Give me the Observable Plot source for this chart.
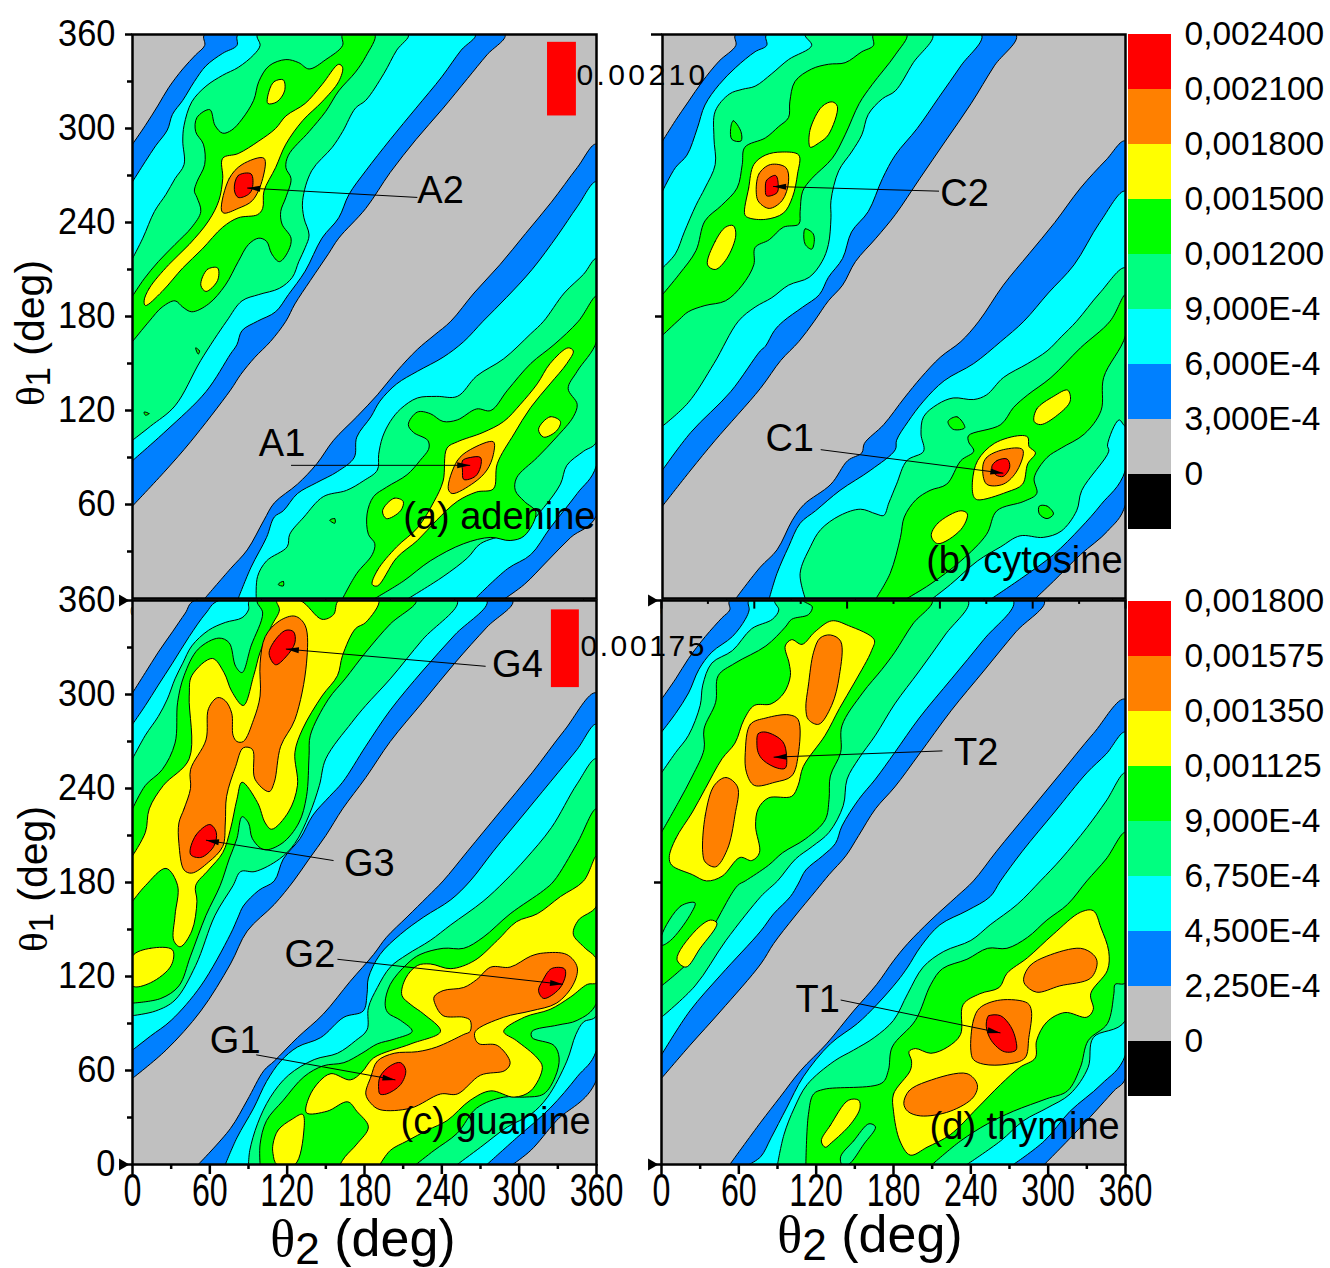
<!DOCTYPE html>
<html><head><meta charset="utf-8">
<script src="https://cdn.jsdelivr.net/npm/d3@7"></script>
<script src="https://cdn.jsdelivr.net/npm/@observablehq/plot@0.6"></script>
<style>
html,body{margin:0;padding:0;background:#fff;overflow:hidden}
#root{position:relative;width:1330px;height:1268px;font-family:"Liberation Sans",Arial,sans-serif;color:#000}
#root svg{position:absolute;left:0;top:0;background:transparent}
.t{position:absolute;white-space:nowrap;line-height:1}
.t i{font-family:"Liberation Serif",serif;font-style:normal}
.t sub{font-size:.85em;line-height:0;vertical-align:-.2em}
</style></head><body><div id="root"></div>
<script>
const BLUE="#0080ff",CYAN="#00ffff",SPRING="#00ff80",GREEN="#00ff00",YELLOW="#ffff00",ORANGE="#ff8000",RED="#ff0000",GRAY="#c0c0c0";

// ---- panel (a) adenine : [theta2, theta1] contour outlines in degrees
const aBlueU=[[0,290],[10,302],[20,315],[28,326],[39,338],[49,347],[56,353],[56,360],[289,360],[275,347],[260,332],[240,312],[220,293],[200,272],[181,249],[160,230],[152,220],[138,203],[126,188],[119,177],[107,164],[95,154],[84,143],[76,133],[45,100],[26,82],[0,59]];
const aCyanU=[[0,266],[10,279],[18,289],[27,299],[31,309],[39,318],[48,330],[57,340],[70,348],[81,353],[82,360],[266,360],[255,350],[240,333],[220,313],[200,293],[181,273],[168,258],[160,243],[147,230],[134,209],[121,194],[111,183],[97,177],[85,171],[81,162],[76,156],[57,132],[26,107],[0,88]];
const aSpringU=[[0,217],[8,230],[17,247],[26,258],[33,268],[40,277],[39,292],[40,302],[46,317],[57,327],[70,334],[82,339],[94,347],[99,353],[97,360],[214,360],[205,350],[195,335],[181,318],[173,313],[163,298],[155,288],[139,273],[132,254],[133,243],[137,232],[134,224],[129,215],[124,205],[114,198],[98,194],[85,190],[73,177],[53,152],[33,123],[14,110],[0,101]];
const aGreenU=[[0,193],[9,204],[20,215],[33,226],[46,237],[53,247],[50,256],[48,260],[50,266],[56,277],[55,290],[49,298],[50,307],[60,312],[64,302],[70,297],[77,299],[85,306],[94,318],[98,330],[106,340],[119,344],[129,342],[137,338],[150,344],[163,353],[163,360],[188,360],[181,346],[173,336],[160,324],[150,311],[137,298],[121,283],[119,275],[123,268],[119,256],[115,247],[116,239],[123,230],[121,222],[114,215],[108,220],[104,228],[98,230],[90,226],[82,215],[72,200],[59,188],[46,183],[39,186],[33,190],[23,186],[13,177],[0,164]];
const aYellowU=[[9,190],[13,198],[28,213],[44,226],[59,241],[67,254],[70,268],[70,281],[82,284],[98,292],[111,300],[119,308],[134,316],[147,328],[160,341],[163,339],[160,330],[147,317],[132,305],[119,290],[111,275],[102,260],[101,249],[97,245],[82,243],[70,237],[54,223],[39,211],[23,196],[10,187]];
const aYellowU2=[[106,324],[110,330],[117,331],[118,324],[112,317],[105,316]];
const aYellowU3=[[53,200],[58,210],[66,211],[66,203],[57,196]];
const aOrangeU=[[69,248],[75,268],[85,277],[102,281],[101,268],[93,254],[82,249],[71,246]];
const aRedU=[[79,261],[82,270],[92,271],[93,262],[90,258],[82,256]];
const aTinyU=[[49,160],[52,158],[51,156]];
const aTinyU2=[[9,119],[13,118],[10,117]];
const aBlueL=[[56,0],[76,19],[89,31],[102,50],[110,61],[128,73],[143,86],[156,101],[174,116],[190,130],[205,145],[221,159],[234,168],[247,177],[265,195],[285,213],[305,233],[325,253],[345,275],[360,290],[360,53],[340,39],[322,24],[304,9],[289,0]];
const aCyanL=[[82,0],[92,20],[104,39],[110,52],[117,56],[128,67],[143,74],[159,81],[172,90],[174,103],[185,116],[192,126],[205,137],[221,145],[241,154],[257,164],[272,177],[290,192],[310,210],[330,232],[345,250],[360,266],[360,85],[345,67],[324,45],[309,28],[291,19],[266,0]];
const aSpringL=[[96,0],[97,14],[104,24],[120,33],[122,41],[133,52],[148,65],[166,69],[179,75],[190,82],[191,92],[194,103],[200,113],[208,121],[221,128],[236,129],[252,129],[267,142],[288,153],[309,169],[319,177],[335,195],[350,207],[360,217],[360,100],[350,94],[337,85],[332,73],[319,58],[304,45],[291,41],[270,35],[260,26],[241,14],[214,0]];
const aGreenL=[[163,0],[174,16],[186,28],[188,35],[183,41],[182,54],[187,65],[197,71],[213,79],[223,88],[230,96],[229,101],[218,106],[214,111],[221,119],[231,118],[241,113],[252,114],[267,121],[278,120],[291,133],[309,150],[327,162],[346,177],[360,193],[360,164],[345,145],[338,134],[345,124],[342,116],[329,103],[314,90],[298,77],[297,69],[304,62],[313,55],[304,40],[293,37],[278,39],[257,35],[231,24],[210,11],[188,0]];
const aYellowL=[[186,9],[190,18],[205,33],[221,45],[234,62],[241,75],[244,96],[252,100],[272,106],[288,113],[301,124],[314,137],[324,150],[338,160],[342,158],[337,150],[324,137],[309,122],[296,105],[283,86],[280,70],[267,68],[252,62],[236,50],[221,37],[205,26],[190,8]];
const aYellowL2=[[194,56],[203,64],[210,62],[208,56],[197,51]];
const aYellowL3=[[315,108],[324,116],[332,113],[329,107],[319,103]];
const aOrangeL=[[245,70],[252,88],[262,95],[280,100],[280,92],[275,82],[265,74],[248,67]];
const aRedL=[[256,82],[256,88],[262,90],[270,90],[270,84],[266,78],[257,76]];
const aTinyL=[[153,50],[157,51],[157,48]];
const aTinyL2=[[113,9],[117,11],[117,8]];

// ---- panel (b) cytosine
const bBlueU=[[0,292],[10,305],[20,317],[31,330],[44,343],[57,353],[57,360],[275,360],[258,340],[240,316],[220,292],[200,268],[181,245],[166,230],[150,215],[140,200],[129,190],[118,177],[106,164],[92,152],[76,134],[41,101],[22,82],[0,59]];
const bCyanU=[[0,260],[10,275],[19,283],[27,300],[33,315],[44,328],[57,339],[72,349],[81,353],[81,360],[248,360],[232,340],[215,320],[198,300],[181,283],[171,268],[160,247],[147,234],[140,217],[129,205],[122,194],[109,186],[94,177],[87,171],[80,161],[76,158],[53,132],[22,106],[0,82]];
const bSpringU=[[0,211],[10,220],[17,234],[26,251],[33,262],[41,277],[40,294],[41,311],[52,322],[62,325],[72,327],[85,335],[98,344],[116,353],[111,360],[210,360],[195,342],[181,324],[171,319],[160,309],[155,296],[147,285],[137,273],[131,254],[131,243],[129,226],[124,215],[114,205],[98,200],[85,192],[72,186],[59,177],[40,150],[20,125],[0,110]];
const bGreenU=[[0,194],[13,207],[26,222],[33,241],[46,251],[58,262],[62,277],[64,288],[80,294],[90,301],[98,307],[99,317],[103,330],[116,338],[129,341],[142,342],[155,349],[164,353],[164,360],[190,360],[181,347],[163,328],[153,316],[142,296],[132,281],[116,268],[109,260],[107,247],[106,239],[94,237],[83,229],[72,224],[71,213],[62,200],[49,190],[33,187],[20,183],[13,178],[0,168]];
const bYellowU=[[64,245],[67,262],[71,277],[80,283],[93,285],[106,283],[105,271],[101,256],[94,246],[80,242],[67,243]];
const bYellowU2=[[114,290],[115,300],[124,314],[132,317],[136,314],[129,296],[122,291],[115,288]];
const bYellowU3=[[35,213],[41,228],[49,237],[55,238],[57,232],[50,217],[41,210]];
const bOrangeU=[[73,258],[75,271],[84,277],[96,275],[98,266],[93,254],[83,249],[75,253]];
const bRedU=[[80,262],[81,267],[88,270],[90,264],[89,259],[81,257]];
const bIslandU=[[53,300],[55,305],[61,298],[61,292],[54,293]];
const bIslandU2=[[110,234],[111,236],[117,233],[118,228],[116,223],[111,226]];
const bBlueL=[[57,0],[76,20],[89,31],[101,50],[110,60],[131,73],[144,88],[155,93],[157,99],[172,111],[188,128],[201,141],[216,154],[232,164],[246,177],[265,200],[285,220],[305,240],[325,262],[345,280],[360,292],[360,60],[346,43],[325,28],[304,11],[290,0]];
const bCyanL=[[83,0],[89,16],[98,33],[107,48],[119,56],[138,69],[162,82],[181,95],[182,101],[191,113],[203,126],[219,139],[242,150],[263,164],[281,177],[300,195],[320,213],[340,240],[360,260],[360,82],[341,60],[325,45],[304,28],[281,14],[256,0]];
const bSpringL=[[111,0],[107,16],[115,33],[123,44],[138,53],[154,57],[166,54],[172,53],[176,61],[182,73],[190,88],[203,94],[201,105],[203,116],[214,124],[226,128],[242,127],[252,130],[265,141],[284,150],[299,158],[310,167],[322,177],[340,195],[360,211],[360,110],[355,114],[346,98],[347,94],[326,69],[322,56],[310,43],[296,39],[278,40],[263,33],[245,24],[224,9],[210,0]];
const bGreenL=[[166,0],[177,16],[185,39],[188,52],[197,63],[208,69],[221,73],[232,88],[242,94],[238,100],[238,104],[263,111],[273,122],[284,130],[302,141],[325,160],[348,177],[360,194],[360,168],[343,141],[341,120],[328,105],[310,96],[299,90],[289,77],[291,67],[281,62],[260,56],[252,41],[232,24],[208,9],[190,0]];
const bYellowL=[[242,65],[241,75],[245,88],[258,99],[278,104],[284,103],[285,97],[290,93],[284,86],[280,73],[268,68],[245,63]];
const bYellowL2=[[289,113],[291,121],[304,129],[315,133],[317,126],[307,117],[294,111]];
const bYellowL3=[[209,40],[214,48],[232,56],[237,54],[232,44],[214,35]];
const bOrangeL=[[249,84],[252,90],[265,95],[280,95],[276,82],[265,73],[252,73]];
const bRedL=[[256,84],[260,88],[268,89],[270,84],[265,78],[259,79]];
const bIslandL=[[222,113],[229,116],[235,109],[226,108]];
const bIslandL2=[[293,59],[299,59],[304,54],[299,51],[293,54]];

// ---- panel (c) guanine
const cBlueU=[[0,301],[10,314],[20,327],[31,340],[41,352],[48,360],[295,360],[275,343],[250,320],[225,295],[200,270],[181,247],[163,227],[150,210],[137,195],[125,181],[110,166],[89,149],[76,128],[53,98],[26,73],[0,55]];
const cCyanU=[[0,281],[10,293],[20,306],[31,320],[44,337],[57,352],[67,360],[275,360],[250,338],[225,315],[200,290],[181,267],[163,244],[153,235],[140,223],[130,208],[117,195],[110,181],[98,175],[86,165],[82,158],[76,147],[53,114],[30,92],[14,82],[0,73]];
const cSpringU=[[0,259],[10,274],[20,286],[27,297],[33,310],[39,320],[46,331],[59,341],[72,346],[85,349],[90,354],[91,360],[252,360],[225,335],[200,310],[181,293],[170,282],[150,259],[145,242],[137,223],[126,205],[114,195],[95,187],[84,187],[78,178],[64,159],[49,127],[33,105],[18,98],[0,95]];
const cGreenU=[[0,227],[10,242],[23,252],[33,269],[35,295],[40,312],[51,329],[67,336],[75,333],[80,318],[85,314],[92,331],[101,352],[97,360],[220,360],[200,345],[181,327],[165,310],[152,297],[138,274],[137,261],[135,235],[129,218],[116,205],[102,201],[93,208],[90,218],[85,222],[81,208],[75,195],[68,178],[57,159],[45,133],[36,114],[22,106],[0,103]];
const cYellowU=[[0,197],[10,212],[13,227],[24,242],[44,259],[44,299],[46,312],[62,323],[71,314],[77,302],[86,293],[94,312],[99,327],[108,344],[114,354],[112,360],[130,360],[147,348],[156,351],[160,360],[191,360],[181,346],[173,342],[163,325],[159,312],[147,299],[132,278],[126,263],[128,242],[121,225],[108,214],[103,218],[97,231],[85,244],[81,233],[76,214],[70,199],[59,188],[49,178],[50,168],[46,149],[37,139],[32,143],[33,159],[35,178],[26,189],[10,178],[0,168]];
const cYellowU2=[[0,133],[14,138],[31,137],[30,127],[14,116],[0,114]];
const cOrangeU=[[36,218],[40,227],[45,240],[45,252],[57,271],[59,291],[66,298],[72,296],[77,288],[78,274],[81,270],[86,270],[94,284],[99,299],[99,320],[103,337],[114,347],[126,350],[134,344],[135,320],[126,284],[115,267],[110,244],[106,238],[95,246],[93,265],[86,266],[80,254],[73,235],[72,218],[70,203],[59,193],[46,186],[40,188],[36,205]];
const cRedU=[[106,326],[110,334],[119,341],[125,340],[126,333],[119,324],[111,319]];
const cRedU2=[[45,198],[49,210],[60,217],[65,212],[63,203],[53,196]];
const cBlueL=[[51,0],[76,23],[89,41],[102,60],[110,66],[128,81],[148,96],[169,117],[187,134],[197,145],[213,158],[229,171],[241,181],[260,200],[285,225],[310,250],[335,277],[360,301],[360,54],[329,28],[309,9],[295,0]];
const cCyanL=[[72,0],[81,17],[94,36],[104,53],[115,66],[128,75],[146,81],[164,94],[179,98],[182,109],[183,119],[192,134],[208,147],[226,158],[247,169],[262,181],[280,200],[305,225],[330,250],[345,265],[360,281],[360,73],[345,56],[324,36],[298,17],[275,0]];
const cSpringL=[[90,0],[91,9],[97,26],[107,43],[121,57],[141,67],[159,71],[173,79],[182,86],[183,100],[190,113],[200,126],[213,134],[231,143],[247,153],[272,168],[289,181],[305,195],[325,215],[345,243],[360,259],[360,95],[350,91],[344,83],[337,66],[322,43],[309,32],[291,24],[270,11],[252,0]];
const cGreenL=[[99,0],[99,13],[104,28],[117,41],[133,56],[148,63],[164,65],[178,71],[190,77],[203,80],[217,85],[208,92],[198,97],[196,103],[200,115],[213,128],[223,134],[241,138],[257,138],[272,145],[293,160],[319,175],[327,181],[345,205],[360,227],[360,103],[345,92],[330,89],[310,85],[310,81],[327,76],[331,68],[328,56],[319,45],[304,43],[288,43],[267,36],[252,20],[234,9],[220,0]];
const cYellowL=[[161,0],[165,5],[174,13],[183,24],[174,34],[167,40],[151,34],[135,33],[137,43],[145,53],[154,58],[169,54],[178,59],[187,68],[216,77],[239,85],[226,96],[216,102],[209,108],[212,119],[221,127],[231,128],[247,125],[265,130],[283,143],[298,155],[314,160],[332,171],[350,181],[360,197],[360,165],[346,156],[342,147],[350,139],[360,131],[360,116],[353,115],[340,107],[324,99],[304,94],[288,85],[298,79],[314,68],[318,62],[309,47],[296,43],[278,47],[262,41],[244,28],[229,22],[213,15],[200,9],[192,0]];
const cYellowL2=[[109,13],[113,22],[124,29],[132,32],[133,22],[126,0],[112,0],[109,7]];
const cOrangeL=[[181,45],[185,56],[190,66],[203,71],[221,72],[236,75],[257,83],[262,85],[262,92],[257,94],[241,95],[235,102],[234,107],[241,111],[257,113],[267,118],[278,126],[293,126],[309,133],[319,135],[337,134],[345,126],[342,115],[329,103],[309,98],[288,94],[266,85],[266,80],[269,77],[283,76],[293,65],[289,60],[270,57],[252,45],[239,45],[216,36],[192,35],[185,39]];
const cRedL=[[191,48],[192,56],[200,63],[208,65],[212,60],[208,51],[197,45],[192,45]];
const cRedL2=[[315,111],[318,117],[325,125],[335,125],[336,121],[331,112],[319,106]];

// ---- panel (d) thymine
const dBlueU=[[0,297],[11,310],[21,323],[34,337],[47,349],[53,354],[53,360],[297,360],[275,340],[250,315],[225,290],[200,262],[181,241],[166,227],[153,210],[143,197],[130,185],[120,175],[103,158],[87,141],[77,128],[46,98],[22,76],[0,55]];
const dCyanU=[[0,276],[11,288],[21,301],[29,316],[39,327],[55,337],[65,348],[68,354],[68,360],[273,360],[250,335],[225,310],[200,285],[181,263],[166,246],[153,233],[140,216],[135,205],[125,197],[112,188],[106,179],[100,171],[87,160],[77,149],[46,121],[22,98],[0,70]];
const dSpringU=[[0,250],[11,263],[21,274],[30,293],[32,306],[39,320],[55,328],[70,342],[86,348],[91,354],[88,360],[238,360],[220,338],[200,315],[181,294],[166,274],[153,259],[144,246],[141,229],[130,212],[117,203],[104,195],[90,181],[82,175],[77,171],[50,143],[26,114],[0,94]];
const dGreenU=[[0,212],[13,231],[24,248],[33,265],[33,278],[42,295],[44,312],[57,320],[81,331],[96,343],[101,348],[114,351],[117,356],[110,360],[210,360],[195,345],[181,327],[171,316],[156,301],[140,280],[139,263],[131,248],[130,233],[127,220],[112,208],[94,199],[83,191],[65,181],[59,178],[38,149],[22,130],[0,114]];
const dYellowU=[[6,196],[11,208],[24,225],[34,240],[47,259],[57,269],[64,284],[72,293],[85,294],[95,301],[100,312],[99,320],[96,331],[101,335],[109,332],[119,340],[132,347],[145,344],[165,335],[163,328],[150,308],[138,291],[127,274],[110,254],[106,242],[101,235],[83,234],[75,227],[73,216],[76,199],[70,194],[61,196],[47,184],[35,181],[24,185],[8,191]];
const dYellowU2=[[12,131],[26,149],[38,156],[43,154],[30,138],[19,126]];
const dOrangeU=[[112,291],[114,306],[118,327],[123,336],[131,338],[139,334],[138,312],[132,293],[122,281],[114,284]];
const dOrangeU2=[[65,263],[69,281],[81,285],[99,287],[106,284],[106,261],[101,248],[88,244],[72,242],[66,250]];
const dOrangeU3=[[32,199],[34,223],[41,242],[50,247],[59,241],[57,223],[51,201],[42,190],[34,193]];
const dRedU=[[74,269],[75,275],[81,276],[94,270],[97,261],[96,253],[90,253],[79,258],[75,263]];
const dIslandU=[[0,146],[15,165],[26,167],[22,159],[7,143],[0,140]];
const dBlueL=[[53,0],[77,27],[92,43],[108,60],[128,77],[149,98],[167,115],[180,130],[191,141],[209,156],[229,171],[242,181],[260,200],[285,225],[310,250],[335,275],[360,297],[360,55],[351,47],[330,28],[309,10],[297,0]];
const dCyanL=[[68,0],[77,5],[85,17],[97,36],[110,56],[131,77],[152,90],[167,102],[183,117],[191,126],[201,139],[216,153],[237,162],[255,171],[263,181],[280,200],[305,225],[330,250],[345,262],[360,276],[360,70],[341,51],[317,34],[297,15],[273,0]];
const dSpringL=[[90,0],[95,19],[103,36],[113,51],[134,66],[149,73],[165,81],[180,92],[191,109],[203,126],[219,136],[240,143],[255,153],[276,166],[294,181],[310,195],[330,215],[345,232],[360,250],[360,92],[335,81],[331,62],[317,45],[299,36],[281,28],[263,15],[237,0]];
const dGreenL=[[112,0],[114,32],[118,45],[126,48],[171,52],[176,60],[179,75],[197,92],[209,115],[218,125],[237,131],[253,138],[268,138],[284,145],[299,156],[315,166],[330,181],[345,195],[360,212],[360,116],[352,115],[351,109],[346,90],[331,79],[325,62],[315,47],[299,42],[273,34],[253,26],[232,15],[210,0]];
const dYellowL=[[180,34],[180,45],[193,60],[194,66],[192,72],[197,74],[209,71],[222,75],[232,83],[234,102],[247,109],[262,113],[268,122],[284,132],[304,147],[325,161],[335,162],[341,151],[347,136],[346,124],[333,109],[335,99],[330,94],[313,97],[299,91],[291,79],[290,68],[278,62],[263,51],[245,36],[224,19],[206,11],[193,6],[185,15]];
const dYellowL2=[[124,15],[131,25],[145,41],[153,41],[154,36],[147,26],[132,14],[127,11]];
const dIslandL=[[139,5],[149,15],[161,26],[166,24],[157,13],[145,0],[140,0]];
const dOrangeL=[[240,73],[242,92],[247,100],[263,105],[284,103],[287,98],[285,81],[282,68],[268,64],[250,64],[242,67]];
const dOrangeL2=[[281,119],[286,127],[299,133],[325,138],[335,134],[338,129],[333,119],[309,114],[291,110],[282,115]];
const dOrangeL3=[[188,39],[192,47],[206,53],[237,58],[245,51],[242,43],[224,34],[201,31],[191,34]];
const dRedL=[[253,94],[254,95],[263,95],[271,88],[275,79],[275,73],[266,72],[256,79],[252,88]];

// ---- legends, ticks, labels
const colourRamp=[RED,ORANGE,YELLOW,GREEN,SPRING,CYAN,BLUE,GRAY,"#000000"];
const legendTop=["0,002400","0,002100","0,001800","0,001500","0,001200","9,000E-4","6,000E-4","3,000E-4","0"];
const legendBottom=["0,001800","0,001575","0,001350","0,001125","9,000E-4","6,750E-4","4,500E-4","2,250E-4","0"];
const majorTicks=[0,60,120,180,240,300,360];
const minorTicks=[30,90,150,210,270,330];
const bBottomLong=[0,72,144,216,288,360];
const bBottomShort=[36,108,180,252,324];

const labelsA=[{t:"A2",x:221,y:260},{t:"A1",x:98,y:99}];
const labelsB=[{t:"C2",x:216,y:258},{t:"C1",x:80,y:102}];
const labelsC=[{t:"G4",x:279,y:319},{t:"G3",x:164,y:192},{t:"G2",x:118,y:134},{t:"G1",x:60,y:79}];
const labelsD=[{t:"T2",x:227,y:263},{t:"T1",x:104,y:105}];
const arrowsA=[[221,256,89,262],[123,85,262,85]];
const arrowsB=[[215,260,86,263],[123,95,265,80]];
const arrowsC=[[274,318,119,329],[156,194,57,207],[159,131,334,115],[96,70,204,54]];
const arrowsD=[[218,264,87,260],[139,105,263,84]];

const poly=(p,fill,closed)=>Plot.line(p,{x:d=>d[0],y:d=>d[1],fill,stroke:"#000",strokeWidth:1,curve:closed?"catmull-rom-closed":"catmull-rom",clip:true});
const bands=(list)=>list.map(([p,c])=>poly(p,c,false));
const isles=(list)=>list.map(([p,c])=>poly(p,c,true));

function panel({left,right,top,bottom,fills,islands,labels,arrows,title,yMajor,yMinor,yText,yLong,xAxis,tris,extra}){
  const kx=(1330-left-right)/360,ky=(1268-top-bottom)/360;
  const arr=arrows.map(a=>({x1:a[0],y1:a[1],x2:a[2],y2:a[3],r:Math.atan2((a[2]-a[0])*kx,(a[3]-a[1])*ky)*180/Math.PI}));
  return Plot.plot({
    width:1330,height:1268,marginLeft:left,marginRight:right,marginTop:top,marginBottom:bottom,
    x:{domain:[0,360]},y:{domain:[0,360]},
    style:{background:"transparent",fontFamily:"Liberation Sans, Arial, sans-serif",color:"#000"},
    marks:[
      Plot.frame({fill:GRAY}),
      ...bands(fills),...isles(islands),
      Plot.link(arr,{x1:"x1",y1:"y1",x2:"x2",y2:"y2",stroke:"#000",strokeWidth:1}),
      Plot.vector(arr,{x:"x2",y:"y2",rotate:"r",length:13,r:3,shape:"spike",anchor:"end",fill:"#000",stroke:"none"}),
      Plot.text(labels,{x:"x",y:"y",text:"t",textAnchor:"start",fontSize:38,fill:"#000"}),
      Plot.text([title],{x:"x",y:"y",text:"t",textAnchor:"start",fontSize:title.s,fill:"#000"}),
      ...(extra||[]),
      Plot.frame({stroke:"#000",strokeWidth:2.5}),
      Plot.axisY(yMajor,{anchor:"left",tickSize:7,tickPadding:10,strokeWidth:2.5,fontSize:37,label:null,text:yText?undefined:null,tickFormat:d=>String(d)}),
      Plot.axisY(yMinor,{anchor:"left",tickSize:5,strokeWidth:2.5,label:null,text:null}),
      ...(yLong?[Plot.axisY(yLong,{anchor:"left",tickSize:11,strokeWidth:2.5,label:null,text:null})]:[]),
      ...(xAxis?[
        Plot.axisX(majorTicks,{anchor:"bottom",tickSize:10,tickPadding:-1,strokeWidth:2.5,fontSize:46,label:null,tickFormat:d=>String(d)}),
        Plot.axisX(minorTicks,{anchor:"bottom",tickSize:5,strokeWidth:2.5,label:null,text:null})
      ]:[]),
      ...(tris?[Plot.dot(tris,{x:()=>0,y:d=>d,dx:-10,symbol:"triangle",rotate:90,r:4.4,fill:"#000"})]:[])
    ]
  });
}

const SPEC={
 b:{left:662,right:205,top:34,bottom:670,title:{t:"(b) cytosine",x:205,y:24,s:38},labels:labelsB,arrows:arrowsB,yMajor:[180],yMinor:[],yLong:[360],yText:false,
  fills:[[bBlueU,BLUE],[bBlueL,BLUE],[bCyanU,CYAN],[bCyanL,CYAN],[bSpringU,SPRING],[bSpringL,SPRING],[bGreenU,GREEN],[bGreenL,GREEN]],
  islands:[[bIslandU,GREEN],[bIslandU2,GREEN],[bIslandL,GREEN],[bIslandL2,GREEN],[bYellowU,YELLOW],[bYellowU2,YELLOW],[bYellowU3,YELLOW],[bYellowL,YELLOW],[bYellowL2,YELLOW],[bYellowL3,YELLOW],[bOrangeU,ORANGE],[bOrangeL,ORANGE],[bRedU,RED],[bRedL,RED]]},
 d:{left:661,right:205,top:600,bottom:104,title:{t:"(d) thymine",x:208,y:24,s:38},labels:labelsD,arrows:arrowsD,yMajor:[0,180,360],yMinor:[],yText:false,xAxis:true,tris:[0,360],
  fills:[[dBlueU,BLUE],[dBlueL,BLUE],[dCyanU,CYAN],[dCyanL,CYAN],[dSpringU,SPRING],[dSpringL,SPRING],[dGreenU,GREEN],[dGreenL,GREEN]],
  islands:[[dIslandU,SPRING],[dIslandL,SPRING],[dYellowU,YELLOW],[dYellowU2,YELLOW],[dYellowL,YELLOW],[dYellowL2,YELLOW],[dOrangeU,ORANGE],[dOrangeU2,ORANGE],[dOrangeU3,ORANGE],[dOrangeL,ORANGE],[dOrangeL2,ORANGE],[dOrangeL3,ORANGE],[dRedU,RED],[dRedL,RED]],
  extra:[Plot.ruleX(bBottomLong,{y1:360,y2:354.5,stroke:"#000",strokeWidth:2}),Plot.ruleX(bBottomShort,{y1:360,y2:357.5,stroke:"#000",strokeWidth:2})]},
 a:{left:132,right:734,top:34,bottom:670,title:{t:"(a) adenine",x:210,y:52,s:38},labels:labelsA,arrows:arrowsA,yMajor:[60,120,180,240,300,360],yMinor:minorTicks,yText:true,
  fills:[[aBlueU,BLUE],[aBlueL,BLUE],[aCyanU,CYAN],[aCyanL,CYAN],[aSpringU,SPRING],[aSpringL,SPRING],[aGreenU,GREEN],[aGreenL,GREEN]],
  islands:[[aTinyU,GREEN],[aTinyU2,GREEN],[aTinyL,GREEN],[aTinyL2,GREEN],[aYellowU,YELLOW],[aYellowU2,YELLOW],[aYellowU3,YELLOW],[aYellowL,YELLOW],[aYellowL2,YELLOW],[aYellowL3,YELLOW],[aOrangeU,ORANGE],[aOrangeL,ORANGE],[aRedU,RED],[aRedL,RED]],
  extra:[Plot.rect([{x1:322,x2:344.4,y1:308,y2:355}],{x1:"x1",x2:"x2",y1:"y1",y2:"y2",fill:RED}),
         Plot.text(["0.00210"],{x:()=>344.4,y:()=>334,textAnchor:"start",fontSize:30,fill:"#000"})]},
 c:{left:132,right:734,top:600,bottom:104,title:{t:"(c) guanine",x:208,y:27,s:38},labels:labelsC,arrows:arrowsC,yMajor:majorTicks,yMinor:minorTicks,yText:true,xAxis:true,tris:[0,360],
  fills:[[cBlueU,BLUE],[cBlueL,BLUE],[cCyanU,CYAN],[cCyanL,CYAN],[cSpringU,SPRING],[cSpringL,SPRING],[cGreenU,GREEN],[cGreenL,GREEN],[cYellowU,YELLOW],[cYellowL,YELLOW]],
  islands:[[cYellowU2,YELLOW],[cYellowL2,YELLOW],[cOrangeU,ORANGE],[cOrangeL,ORANGE],[cRedU,RED],[cRedU2,RED],[cRedL,RED],[cRedL2,RED]],
  extra:[Plot.rect([{x1:325,x2:346.7,y1:304.4,y2:354}],{x1:"x1",x2:"x2",y1:"y1",y2:"y2",fill:RED}),
         Plot.text(["0.00175"],{x:()=>347.5,y:()=>331,textAnchor:"start",fontSize:30,fill:"#000"})]}
};

function legend(labels,top,bottom){
  const rows=colourRamp.map((c,i)=>({i,c,l:labels[i]}));
  return Plot.plot({width:1330,height:1268,marginLeft:1128,marginRight:159,marginTop:top,marginBottom:bottom,
    x:{domain:[0,1],axis:null},y:{domain:[9,0],axis:null},
    style:{background:"transparent",fontFamily:"Liberation Sans, Arial, sans-serif",color:"#000"},
    marks:[
      Plot.rect(rows,{x1:()=>0,x2:()=>1,y1:"i",y2:d=>d.i+1,fill:"c"}),
      Plot.text(rows,{x:()=>1,y:"i",text:"l",dx:13,textAnchor:"start",fontSize:33.5,fill:"#000"})
    ]});
}

const root=document.getElementById("root");
for(const k of ["b","d","a","c"]) root.appendChild(panel(SPEC[k]));
root.appendChild(legend(legendTop,34,739));
root.appendChild(legend(legendBottom,601,172));

// condense the axis numerals the way the source figure shows them
const squeeze=(sel,f)=>document.querySelectorAll(sel).forEach(t=>{
  const w=t.getComputedTextLength();
  t.setAttribute("textLength",w*f);t.setAttribute("lengthAdjust","spacingAndGlyphs");
});
squeeze('g[aria-label="x-axis tick label"] text',0.7);
squeeze('g[aria-label="y-axis tick label"] text',0.93);
// the two peak values are set with wide tracking
document.querySelectorAll("svg text").forEach(t=>{
  if(t.textContent==="0.00210") t.style.letterSpacing="3.4px";
  if(t.textContent==="0.00175") t.style.letterSpacing="2.6px";
});

const addTitle=(html,css)=>{const e=document.createElement("div");e.className="t";e.style.cssText=css;e.innerHTML=html;root.appendChild(e);};
addTitle('<i>θ</i><sub>1</sub> (deg)','left:30px;top:333px;font-size:41px;transform:translate(-50%,-50%) rotate(-90deg)');
addTitle('<i>θ</i><sub>1</sub> (deg)','left:33px;top:879px;font-size:41px;transform:translate(-50%,-50%) rotate(-90deg)');
addTitle('<i>θ</i><sub>2</sub> (deg)','left:363px;top:1238px;font-size:52px;transform:translate(-50%,-50%)');
addTitle('<i>θ</i><sub>2</sub> (deg)','left:870px;top:1234px;font-size:52px;transform:translate(-50%,-50%)');
</script></body></html>
